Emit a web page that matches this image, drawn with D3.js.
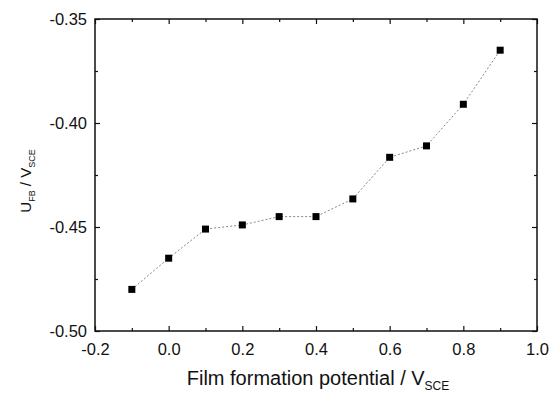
<!DOCTYPE html>
<html>
<head>
<meta charset="utf-8">
<script src="https://cdn.jsdelivr.net/npm/d3@7"></script>
<style>
  html, body { margin: 0; padding: 0; background: #fff; }
  svg { display: block; font-family: 'Liberation Sans', Arial, sans-serif; }
</style>
</head>
<body>
<div id="chart"></div>
<script>
// film formation potential (V vs SCE)
const potentials = [-0.1, 0.0, 0.1, 0.2, 0.3, 0.4, 0.5, 0.6, 0.7, 0.8, 0.9]
// flat-band potential U_FB (V vs SCE)
const flatBand = [-0.480, -0.465, -0.451, -0.449, -0.445, -0.445, -0.4365, -0.4165, -0.411, -0.391, -0.365]

const xTicks = [-0.2, 0.0, 0.2, 0.4, 0.6, 0.8, 1.0]
const xMinor = [-0.1, 0.1, 0.3, 0.5, 0.7, 0.9]
const yTicks = [-0.50, -0.45, -0.40, -0.35]
const yMinor = [-0.475, -0.425, -0.375]

const W = 555, H = 395
const margin = { top: 19, right: 18, bottom: 64, left: 95 }
const iw = W - margin.left - margin.right
const ih = H - margin.top - margin.bottom

const MAJOR = 5
const MINOR = 3
const MARK = 7

const svg = d3.select('#chart').append('svg')
  .attr('width', W).attr('height', H)

const g = svg.append('g')
  .attr('transform', `translate(${margin.left},${margin.top})`)

const x = d3.scaleLinear().domain([-0.2, 1.0]).range([0, iw])
const y = d3.scaleLinear().domain([-0.50, -0.35]).range([ih, 0])

// axes: ticks point inward, mirrored on top and right
function styleAxis(sel) {
  sel.select('.domain').remove()
  sel.selectAll('line').attr('stroke', '#111').attr('stroke-width', 1.2)
  sel.selectAll('text')
    .attr('font-size', '16.5px')
    .attr('fill', '#111')
  return sel
}

// plain hyphen minus, like the original figure
const fmt = v => v.toFixed(1)
const fmtY = v => v.toFixed(2)

g.append('g')
  .attr('transform', `translate(0,${ih})`)
  .call(d3.axisBottom(x).tickValues(xTicks).tickSizeInner(-MAJOR).tickSizeOuter(0).tickPadding(MAJOR + 7).tickFormat(fmt))
  .call(styleAxis)

g.append('g')
  .attr('transform', `translate(0,${ih})`)
  .call(d3.axisBottom(x).tickValues(xMinor).tickSizeInner(-MINOR).tickSizeOuter(0).tickFormat(''))
  .call(styleAxis)

g.append('g')
  .call(d3.axisTop(x).tickValues(xTicks).tickSizeInner(-MAJOR).tickSizeOuter(0).tickFormat(''))
  .call(styleAxis)

g.append('g')
  .call(d3.axisTop(x).tickValues(xMinor).tickSizeInner(-MINOR).tickSizeOuter(0).tickFormat(''))
  .call(styleAxis)

g.append('g')
  .call(d3.axisLeft(y).tickValues(yTicks).tickSizeInner(-MAJOR).tickSizeOuter(0).tickPadding(MAJOR + 3).tickFormat(fmtY))
  .call(styleAxis)

g.append('g')
  .call(d3.axisLeft(y).tickValues(yMinor).tickSizeInner(-MINOR).tickSizeOuter(0).tickFormat(''))
  .call(styleAxis)

g.append('g')
  .attr('transform', `translate(${iw},0)`)
  .call(d3.axisRight(y).tickValues(yTicks).tickSizeInner(-MAJOR).tickSizeOuter(0).tickFormat(''))
  .call(styleAxis)

g.append('g')
  .attr('transform', `translate(${iw},0)`)
  .call(d3.axisRight(y).tickValues(yMinor).tickSizeInner(-MINOR).tickSizeOuter(0).tickFormat(''))
  .call(styleAxis)

// frame
g.append('rect')
  .attr('width', iw).attr('height', ih)
  .attr('fill', 'none')
  .attr('stroke', '#111')
  .attr('stroke-width', 1.5)

const pts = potentials.map((p, i) => ({ x: p, y: flatBand[i] }))

g.append('path')
  .datum(pts)
  .attr('fill', 'none')
  .attr('stroke', '#888')
  .attr('stroke-width', 1)
  .attr('stroke-dasharray', '2,2')
  .attr('d', d3.line().x(d => x(d.x)).y(d => y(d.y)))

g.selectAll('.pt')
  .data(pts)
  .enter()
  .append('rect')
  .attr('class', 'pt')
  .attr('x', d => x(d.x) - MARK / 2)
  .attr('y', d => y(d.y) - MARK / 2)
  .attr('width', MARK).attr('height', MARK)
  .attr('fill', '#000')

// x title
const xt = svg.append('text')
  .attr('x', margin.left + iw / 2 + 2)
  .attr('y', 385)
  .attr('text-anchor', 'middle')
  .attr('font-size', '20px')
  .attr('fill', '#111')
xt.append('tspan').text('Film formation potential / V')
xt.append('tspan').attr('font-size', '12px').attr('dy', 5).text('SCE')

// y title
const yt = svg.append('text')
  .attr('transform', `translate(31,181) rotate(-90)`)
  .attr('text-anchor', 'middle')
  .attr('font-size', '15px')
  .attr('fill', '#111')
yt.append('tspan').text('U')
yt.append('tspan').attr('font-size', '9px').attr('dy', 4).text('FB')
yt.append('tspan').attr('dy', -4).text(' / V')
yt.append('tspan').attr('font-size', '9px').attr('dy', 4).text('SCE')
</script>
</body>
</html>
